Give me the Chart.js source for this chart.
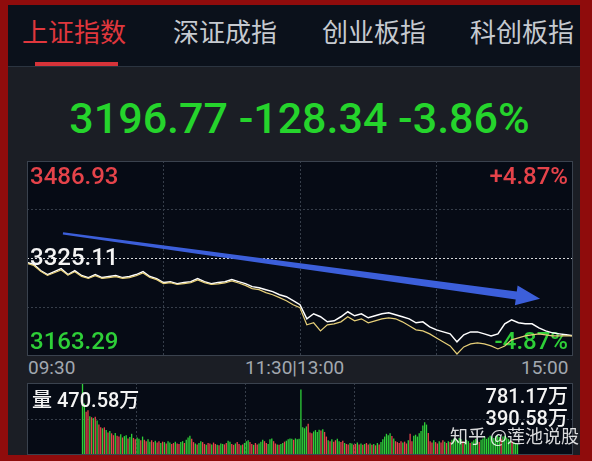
<!DOCTYPE html>
<html>
<head>
<meta charset="utf-8">
<script src="https://cdn.jsdelivr.net/npm/chart.js@4.4.1/dist/chart.umd.min.js"></script>
<style>
  html, body { margin: 0; padding: 0; }
  body { width: 592px; height: 461px; background: #8f0c0c; position: relative; overflow: hidden;
         font-family: Roboto, "Noto Sans CJK SC", sans-serif; }
  .abs { position: absolute; white-space: nowrap; }
  #panel { left: 8px; top: 5px; width: 572px; height: 450px; background: #1b1e25; }
  #tabs { left: 8px; top: 5px; width: 572px; height: 61px; background: #0b111b; }
  #sep { left: 8px; top: 66px; width: 572px; height: 1px; background: #2b3440; }
  .tab { top: 17px; font: 26px/28px "Noto Sans CJK SC", sans-serif; color: #c6cad0; }
  .tab.on { color: #e0373d; }
  #under { left: 35px; top: 62px; width: 83px; height: 4px; background: #d63339; }
  #quote { left: 0; width: 599px; top: 96px; text-align: center; font: 500 43px/44px Roboto, sans-serif; color: #25d42c; }
  .time { top: 358px; font: 19px/20px Roboto, sans-serif; color: #a2a8b0; }
  canvas { position: absolute; }
  .vtxt { font: 500 20px/22px Roboto, "Noto Sans CJK SC", sans-serif; color: #f4f4f4; }
  #mark { left: 450px; top: 424px; font: 18px/22px "Noto Sans CJK SC", sans-serif; color: rgba(255,255,255,0.85); }
</style>
</head>
<body>
<div class="abs" id="panel"></div>
<div class="abs" id="tabs"></div>
<div class="abs" id="sep"></div>
<div class="abs tab on" style="left:22px">上证指数</div>
<div class="abs tab" style="left:173px">深证成指</div>
<div class="abs tab" style="left:322px">创业板指</div>
<div class="abs tab" style="left:470px">科创板指</div>
<div class="abs" id="under"></div>
<div class="abs" id="quote">3196.77 -128.34 -3.86%</div>

<canvas id="price" width="546" height="195" style="left:27px;top:161px"></canvas>
<div class="abs time" style="left:28px">09:30</div>
<div class="abs time" style="left:245px">11:30|13:00</div>
<div class="abs time" style="left:521px">15:00</div>

<canvas id="vol" width="546" height="72" style="left:27px;top:383px"></canvas>
<div class="abs vtxt" style="left:32px;top:389px">量 470.58万</div>
<div class="abs vtxt" style="right:24px;top:385px">781.17万</div>
<div class="abs vtxt" style="right:24px;top:407px">390.58万</div>
<div class="abs" id="mark">知乎 @莲池说股</div>

<script>
// index values every 3 minutes, 09:30 .. 11:30 / 13:00 .. 15:00
const price = [3318.4, 3315.1, 3305.1, 3298.4, 3303.4, 3308.4, 3298.4, 3305.1, 3296.8, 3293.4,
  3298.4, 3293.4, 3295.1, 3296.8, 3293.4, 3295.1, 3298.4, 3303.4, 3295.1, 3291.8,
  3285.1, 3286.7, 3283.4, 3285.1, 3286.7, 3291.8, 3286.7, 3283.4, 3285.1, 3286.7,
  3290.1, 3286.7, 3283.4, 3278.4, 3276.7, 3273.4, 3270.1, 3265.0, 3261.7, 3255.1,
  3248.4, 3225.0, 3233.4, 3228.4, 3220.0, 3221.7, 3228.4, 3236.7, 3230.0, 3233.4,
  3226.7, 3230.0, 3233.4, 3235.0, 3231.7, 3228.4, 3225.0, 3218.4, 3220.0, 3211.7,
  3206.7, 3203.3, 3200.0, 3186.7, 3198.4, 3203.3, 3203.3, 3200.0, 3196.7, 3200.0,
  3216.7, 3223.4, 3218.4, 3216.7, 3216.7, 3210.0, 3205.0, 3201.7, 3200.0, 3198.4, 3196.77];

const avgLine = [3317.0, 3313.5, 3304.0, 3297.0, 3301.5, 3306.0, 3297.5, 3303.0, 3295.5, 3292.0,
  3296.5, 3292.0, 3293.5, 3295.0, 3292.0, 3293.5, 3296.5, 3301.0, 3293.5, 3290.0,
  3283.5, 3285.0, 3282.0, 3283.5, 3285.0, 3289.5, 3285.0, 3282.0, 3283.0, 3284.5,
  3288.0, 3284.5, 3280.5, 3275.1, 3273.4, 3268.4, 3265.0, 3260.1, 3255.1, 3248.4,
  3243.4, 3215.0, 3218.4, 3205.0, 3215.0, 3216.7, 3220.0, 3228.4, 3221.7, 3225.0,
  3218.4, 3221.7, 3225.0, 3226.7, 3225.0, 3220.0, 3213.4, 3206.7, 3205.0, 3200.0,
  3193.3, 3186.7, 3180.0, 3166.6, 3178.3, 3183.3, 3185.0, 3183.3, 3180.0, 3175.0,
  3180.0, 3190.0, 3193.3, 3196.7, 3198.4, 3200.0, 3198.4, 3196.7, 3196.7, 3196.7, 3196.7];

const stepMin = 3;
const prevClose = 3325.11;
const yTicks = [3163.29, 3244.20, 3325.11, 3406.02, 3486.93];

// volume per minute, 万手
const volAM = [781.17, 560, 470, 485, 420, 410, 400, 415, 375, 330,
  300, 290, 300, 270, 245, 260, 235, 215, 240, 210,
  200, 225, 190, 205, 215, 180, 195, 230, 185, 170,
  190, 175, 160, 200, 165, 150, 170, 145, 160, 140,
  155, 135, 150, 130, 145, 140, 125, 150, 135, 120,
  130, 145, 125, 120, 140, 150, 130, 165, 190, 210,
  175, 140, 125, 115, 130, 150, 140, 120, 110, 130,
  125, 115, 135, 120, 110, 105, 125, 120, 115, 130,
  155, 145, 120, 110, 125, 140, 120, 105, 115, 130,
  150, 160, 140, 120, 110, 130, 115, 125, 145, 165,
  150, 130, 120, 170, 180, 150, 125, 115, 110, 120,
  130, 145, 155, 170, 180, 175, 165, 180, 170, 175];
const volPM = [710, 300, 290, 310, 340, 245, 235, 255, 270, 250,
  275, 265, 280, 250, 200, 160, 150, 170, 145, 160,
  175, 150, 140, 155, 130, 120, 115, 130, 125, 110,
  120, 135, 115, 125, 110, 120, 130, 115, 125, 110,
  120, 105, 130, 115, 140, 170, 200, 230, 215, 235,
  205, 180, 150, 140, 130, 150, 135, 145, 125, 160,
  230, 150, 210, 220, 200, 235, 260, 320, 355, 330,
  240, 150, 135, 160, 140, 125, 150, 135, 160, 145,
  130, 150, 140, 165, 180, 175, 160, 185, 170, 150,
  140, 165, 150, 130, 145, 160, 175, 155, 140, 165,
  180, 195, 175, 190, 210, 200, 185, 205, 215, 195,
  180, 200, 210, 190, 175, 160, 150, 140, 130, 120];
// r = up minute, g = down minute
const volDir =
  "ggrrgrgrgr" + "rgrgrgrrgr" + "rgrggrggrr" + "ggrgrrggrr" + "grrgrgrggr" + "rgrrggrggg" +
  "rrgrggrrgr" + "rgrrgrggrr" + "ggrrgrrgrg" + "ggrrgrrggg" + "rrgggrrgrg" + "grggggrggg" +
  "ggggrrrggg" + "grgrrgrgrr" + "ggrrgrrggr" + "rgrgrgrrgr" + "grgrgggggg" + "rgrrrrgrrg" +
  "rrgggggggg" + "rrrgrrgrrg" + "rgrggggggr" + "gggrggggrg" + "gggggggggg" + "rgggggrggg";
const volTicks = [0, 390.58, 781.17];

// hand-drawn arrow on the picture, in (minute, index) units
const arrowFrom = [15.8, 3366.8];
const arrowTo = [225.5, 3258.4];

const RED = '#e5434a', GREEN = '#2ecf38', GRIDC = '#363e4a';

const frame = {
  id: 'frame',
  beforeDraw(c) {
    const a = c.chartArea, ctx = c.ctx;
    ctx.save();
    ctx.fillStyle = '#060b15';
    ctx.fillRect(a.left, a.top, a.right - a.left, a.bottom - a.top);
    ctx.restore();
  },
  afterDraw(c) {
    const a = c.chartArea, ctx = c.ctx;
    ctx.save();
    ctx.strokeStyle = '#3a424e';
    ctx.lineWidth = 1;
    ctx.strokeRect(a.left + 0.5, a.top + 0.5, a.right - a.left - 1, a.bottom - a.top - 1);
    ctx.restore();
  }
};

const pct = v => (v >= prevClose ? '+' : '-') + (Math.abs(v - prevClose) / prevClose * 100).toFixed(2) + '%';

const sideLabels = {
  id: 'sideLabels',
  beforeDatasetsDraw(c) {
    const a = c.chartArea, ctx = c.ctx, y = c.scales.y;
    const hi = yTicks[yTicks.length - 1], lo = yTicks[0];
    ctx.save();
    ctx.font = '500 24px Roboto';
    ctx.textBaseline = 'middle';
    ctx.fillStyle = RED;
    ctx.textAlign = 'left';
    ctx.fillText(hi.toFixed(2), a.left + 3, y.getPixelForValue(hi) + 17);
    ctx.textAlign = 'right';
    ctx.fillText(pct(hi), a.right - 5, y.getPixelForValue(hi) + 17);
    ctx.fillStyle = GREEN;
    ctx.textAlign = 'left';
    ctx.fillText(lo.toFixed(2), a.left + 3, y.getPixelForValue(lo) - 13);
    ctx.textAlign = 'right';
    ctx.fillText(pct(lo), a.right - 5, y.getPixelForValue(lo) - 13);
    ctx.fillStyle = '#f4f4f4';
    ctx.textAlign = 'left';
    ctx.fillText(prevClose.toFixed(2), a.left + 3, y.getPixelForValue(prevClose));
    ctx.restore();
  }
};

const arrow = {
  id: 'arrow',
  afterDatasetsDraw(c) {
    const ctx = c.ctx, sx = c.scales.x, sy = c.scales.y;
    const x0 = sx.getPixelForValue(arrowFrom[0]), y0 = sy.getPixelForValue(arrowFrom[1]);
    const x1 = sx.getPixelForValue(arrowTo[0]), y1 = sy.getPixelForValue(arrowTo[1]);
    const len = Math.hypot(x1 - x0, y1 - y0);
    const ux = (x1 - x0) / len, uy = (y1 - y0) / len, nx = -uy, ny = ux;
    const headLen = 24, headW = 10, w0 = 1.2, w1 = 4;
    const bx = x1 - ux * headLen, by = y1 - uy * headLen;
    ctx.save();
    ctx.fillStyle = '#3c5fda';
    ctx.beginPath();
    ctx.moveTo(x0 + nx * w0, y0 + ny * w0);
    ctx.lineTo(bx + nx * w1, by + ny * w1);
    ctx.lineTo(bx + nx * headW, by + ny * headW);
    ctx.lineTo(x1, y1);
    ctx.lineTo(bx - nx * headW, by - ny * headW);
    ctx.lineTo(bx - nx * w1, by - ny * w1);
    ctx.lineTo(x0 - nx * w0, y0 - ny * w0);
    ctx.closePath();
    ctx.fill();
    ctx.restore();
  }
};

const edge = (ctx, n) => ctx.index === 0 || ctx.index === n - 1;

new Chart(document.getElementById('price'), {
  type: 'line',
  data: {
    datasets: [
      { data: avgLine.map((v, i) => ({ x: i * stepMin, y: v })), borderColor: '#e6cf78', borderWidth: 1.2, pointRadius: 0 },
      { data: price.map((v, i) => ({ x: i * stepMin, y: v })), borderColor: '#ffffff', borderWidth: 1.5, pointRadius: 0 }
    ]
  },
  options: {
    responsive: false,
    animation: false,
    layout: { padding: 0 },
    plugins: { legend: { display: false }, tooltip: { enabled: false } },
    scales: {
      x: {
        type: 'linear', min: 0, max: 240,
        ticks: { display: false, stepSize: 60 },
        grid: { drawTicks: false, color: ctx => edge(ctx, 5) ? 'transparent' : GRIDC },
        border: { display: false, dash: [2, 2] }
      },
      y: {
        min: yTicks[0], max: yTicks[yTicks.length - 1],
        afterBuildTicks: s => { s.ticks = yTicks.map(v => ({ value: v })); },
        ticks: { display: false },
        grid: {
          drawTicks: false,
          color: ctx => edge(ctx, yTicks.length) ? 'transparent' : (ctx.tick && ctx.tick.value === prevClose ? 'rgba(255,255,255,0.85)' : GRIDC)
        },
        border: { display: false, dash: [2, 2] }
      }
    }
  },
  plugins: [frame, sideLabels, arrow]
});

const vols = volAM.concat(volPM);
new Chart(document.getElementById('vol'), {
  type: 'bar',
  data: {
    datasets: [{
      data: vols.map((v, i) => ({ x: i + 0.5, y: v })),
      backgroundColor: vols.map((v, i) => volDir[i] === 'r' ? RED : GREEN),
      barPercentage: 0.72,
      categoryPercentage: 1
    }]
  },
  options: {
    responsive: false,
    animation: false,
    layout: { padding: 0 },
    plugins: { legend: { display: false }, tooltip: { enabled: false } },
    scales: {
      x: {
        type: 'linear', min: 0, max: 240,
        ticks: { display: false, stepSize: 60 },
        grid: { drawTicks: false, color: ctx => edge(ctx, 5) ? 'transparent' : GRIDC },
        border: { display: false, dash: [2, 2] }
      },
      y: {
        min: 0, max: volTicks[volTicks.length - 1],
        afterBuildTicks: s => { s.ticks = volTicks.map(v => ({ value: v })); },
        ticks: { display: false },
        grid: { drawTicks: false, color: ctx => edge(ctx, volTicks.length) ? 'transparent' : GRIDC },
        border: { display: false, dash: [2, 2] }
      }
    }
  },
  plugins: [frame]
});
</script>
</body>
</html>
